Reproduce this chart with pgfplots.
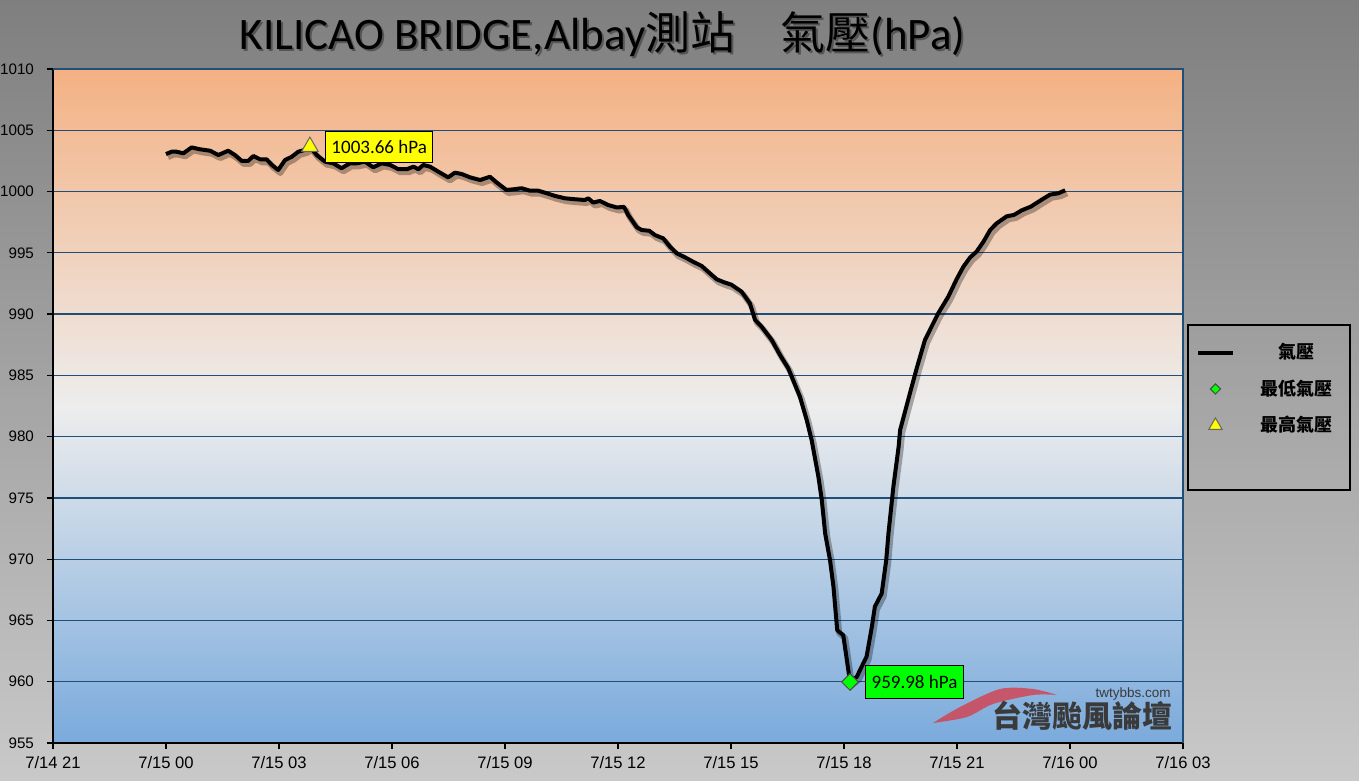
\documentclass[border=0pt]{standalone}
\usepackage{fontspec}
\usepackage{pgfplots}
\pgfplotsset{compat=1.18}
\setmainfont{Carlito}
\newfontfamily\cjk{Noto Sans CJK TC}
\newfontfamily\tickfont{Liberation Sans}
\newfontfamily\wmfont{Liberation Sans}
\definecolor{gridblue}{HTML}{1F4E79}
\definecolor{bgtop}{HTML}{7F7F7F}
\definecolor{bgbot}{HTML}{C9C9C9}
\definecolor{ptop}{HTML}{F4B183}
\definecolor{pmid}{HTML}{EDEDED}
\definecolor{pbot}{HTML}{7AAADC}
\definecolor{wmgray}{HTML}{3A3A3A}
\definecolor{wmred}{HTML}{E0303A}
\definecolor{mgreen}{HTML}{00FF00}
\definecolor{myellow}{HTML}{FFFF00}

\pgfplotstableread{
h p
0 1003.06
0.15 1003.25
0.28 1003.25
0.46 1003.12
0.68 1003.60
0.90 1003.45
1.17 1003.33
1.39 1002.98
1.65 1003.33
1.83 1002.98
2.01 1002.50
2.18 1002.50
2.32 1002.90
2.50 1002.63
2.67 1002.63
2.81 1002.17
2.98 1001.76
3.16 1002.57
3.34 1002.84
3.51 1003.25
3.69 1003.40
3.82 1003.66
4.00 1002.98
4.22 1002.44
4.44 1002.30
4.66 1001.90
4.88 1002.30
5.06 1002.30
5.28 1002.44
5.50 1001.98
5.73 1002.30
5.95 1002.17
6.17 1001.82
6.39 1001.82
6.57 1002.03
6.70 1001.82
6.83 1002.17
7.01 1002.03
7.23 1001.62
7.49 1001.16
7.67 1001.54
7.85 1001.43
8.07 1001.16
8.34 1000.94
8.60 1001.21
8.78 1000.73
9.04 1000.13
9.22 1000.18
9.44 1000.27
9.66 1000.07
9.88 1000.07
10.11 999.86
10.33 999.64
10.59 999.45
10.86 999.37
11.12 999.31
11.21 999.45
11.34 999.10
11.52 999.23
11.74 998.90
11.97 998.70
12.16 998.75
12.27 998.09
12.50 997.08
12.63 996.86
12.83 996.80
12.98 996.45
13.20 996.18
13.38 995.50
13.56 994.96
13.78 994.63
13.99 994.28
14.22 993.93
14.39 993.46
14.62 992.84
14.84 992.57
15.01 992.40
15.28 991.83
15.50 990.88
15.64 989.52
15.81 988.98
16.08 987.89
16.30 986.67
16.52 985.58
16.83 983.26
17.01 981.36
17.14 979.73
17.32 976.73
17.41 974.83
17.50 972.10
17.63 969.90
17.72 967.76
17.82 964.20
17.98 963.80
18.16 959.98
18.34 960.41
18.60 962.06
18.74 964.50
18.82 966.13
19.00 967.20
19.12 969.90
19.18 972.10
19.31 975.90
19.45 979.18
19.49 980.54
19.75 983.54
19.93 985.58
20.15 987.90
20.50 990.06
20.77 991.43
20.99 992.85
21.17 993.87
21.35 994.63
21.52 995.10
21.70 995.90
21.88 996.86
22.05 997.40
22.32 997.98
22.51 998.09
22.72 998.47
22.96 998.77
23.23 999.30
23.47 999.75
23.69 999.86
23.87 1000.10
}\pres

\begin{document}
\begin{tikzpicture}[x=1pt,y=1pt]
\fill[top color=bgtop,bottom color=bgbot] (0,0) rectangle (679.5,390.5);
\path[use as bounding box] (0,0) rectangle (679.5,390.5);
% title with shadow
\node[anchor=base,text=black,opacity=0.35,font=\fontsize{22.5}{27}\selectfont] at (302.3,364.5) {KILICAO BRIDGE,Albay{\cjk 測站　氣壓}(hPa)};
\node[anchor=base,text=black,font=\fontsize{22.5}{27}\selectfont] at (301.3,365.5) {KILICAO BRIDGE,Albay{\cjk 測站　氣壓}(hPa)};
\begin{axis}[
  at={(26.5pt,19pt)}, anchor=south west,
  scale only axis, width=565pt, height=337pt,
  xmin=-3, xmax=27, ymin=955, ymax=1010,
  xtick={-3,0,...,27},
  xticklabels={7/14 21,7/15 00,7/15 03,7/15 06,7/15 09,7/15 12,7/15 15,7/15 18,7/15 21,7/16 00,7/16 03},
  ytick={955,960,...,1010},
  yticklabels={955,960,965,970,975,980,985,990,995,1000,1005,1010},
  ymajorgrids, grid style={gridblue, line width=0.6pt},
  tick pos=left, tick align=outside, major tick length=3pt,
  tick style={black, line width=0.6pt},
  axis line style={draw=none},
  axis background/.style={top color=ptop, bottom color=pbot, middle color=pmid},
  xticklabel style={font=\tickfont\fontsize{8.3}{9}\selectfont, text=black, yshift=0pt},
  yticklabel style={font=\tickfont\fontsize{7.6}{9}\selectfont, text=black, xshift=-3pt},
  legend style={at={(1.0044,0.6202)}, anchor=north west, draw=none, fill=none,
    font=\cjk\bfseries\fontsize{9}{10}\selectfont, inner xsep=4pt, inner ysep=7pt,
    row sep=5pt, column sep=9pt},
  clip=false,
]
\addplot[forget plot, black, opacity=0.3, line width=3pt, line join=round, xshift=1pt, yshift=-1.5pt] table[x=h,y=p] {\pres};
\addplot[black, line width=2pt, line join=round] table[x=h,y=p] {\pres};
\addlegendentry{\makebox[40pt][c]{氣壓}}
\addplot[only marks, mark=square*, mark size=2.95pt, mark options={rotate=45, fill=mgreen, draw=black!70, line width=0.5pt},
  legend image post style={mark size=1.8pt}] coordinates {(18.16,959.98)};
\addlegendentry{\makebox[40pt][c]{最低氣壓}}
\addplot[only marks, mark=triangle*, mark size=4.8pt, mark options={fill=myellow, draw=black!60, line width=0.5pt},
  legend image post style={mark size=3.8pt}] coordinates {(3.82,1003.66)};
\addlegendentry{\makebox[40pt][c]{最高氣壓}}
\draw[black, line width=0.7pt] (rel axis cs:0,1) -- (rel axis cs:0,0) -- (rel axis cs:1,0);
\draw[gridblue, line width=0.6pt] (rel axis cs:0,1) -- (rel axis cs:1,1) -- (rel axis cs:1,0);
\node[anchor=west, xshift=7.5pt, fill=myellow, draw=black, line width=0.6pt, inner xsep=3pt, minimum height=15.5pt,
  font=\fontsize{9.5}{11}\selectfont] at (axis cs:3.82,1003.66) {1003.66 hPa};
\node[anchor=west, xshift=7.5pt, fill=mgreen, draw=black, line width=0.6pt, inner xsep=3pt, minimum height=16.5pt,
  font=\fontsize{9.5}{11}\selectfont] at (axis cs:18.16,959.98) {959.98 hPa};
\end{axis}
% legend frame
\draw[black, line width=0.6pt] (594,145.5) rectangle (675,228);
% watermark
\fill[wmred, opacity=0.7] plot[smooth] coordinates {(466.5,29) (480,37) (500,46) (516.5,46) (528.5,43)}
  -- plot[smooth] coordinates {(528.5,43) (516.5,43) (496.5,38.5) (483.5,32) (466.5,29)} -- cycle;
\node[text=wmgray, font=\cjk\bfseries\fontsize{15}{16}\selectfont] at (541,32.5) {台灣颱風論壇};
\node[text=wmgray, font=\wmfont\fontsize{6.75}{8}\selectfont] at (566.5,43.5) {twtybbs.com};
\end{tikzpicture}
\end{document}
